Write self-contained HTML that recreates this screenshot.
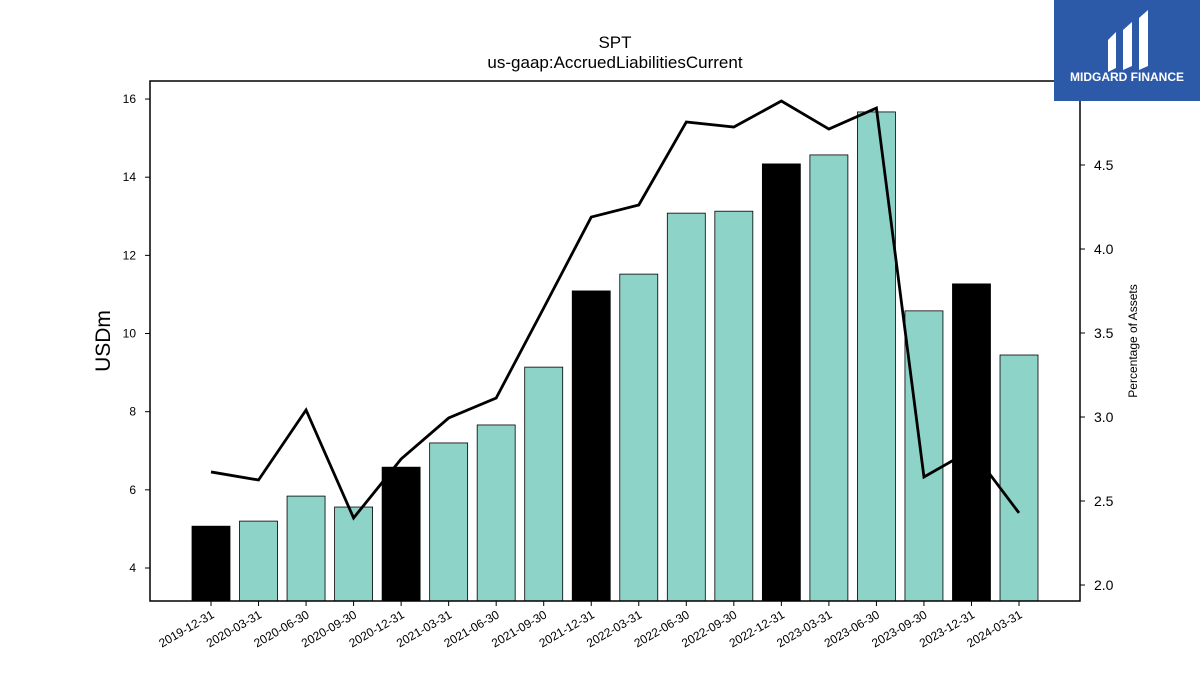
<!DOCTYPE html>
<html><head><meta charset="utf-8"><style>
body{margin:0;background:#fff;}
svg{display:block;font-family:"Liberation Sans","DejaVu Sans",sans-serif;}
</style></head><body>
<svg id="chart" width="1200" height="675" viewBox="0 0 1200 675">
<text x="615" y="48" text-anchor="middle" font-size="17">SPT</text>
<text x="615" y="68" text-anchor="middle" font-size="17">us-gaap:AccruedLiabilitiesCurrent</text>
<g id="bars"></g>
<g id="line"></g>
<rect x="150" y="81" width="930" height="520" fill="none" stroke="#000" stroke-width="1.5"/>
<g id="lticks"></g>
<g id="rticks"></g>
<g id="xticks"></g>
<text transform="translate(110,341) rotate(-90)" text-anchor="middle" font-size="21">USDm</text>
<text transform="translate(1137,341) rotate(-90)" text-anchor="middle" font-size="12">Percentage of Assets</text>
<g>
<rect x="1054" y="0" width="146" height="101" fill="#2c5aa9"/>
<path d="M1108 40 L1116 32 L1116 68 L1108 72 Z M1123 30 L1132 22 L1132 66 L1123 70 Z M1139 18 L1148 10 L1148 66 L1139 70 Z" fill="#fff"/>
<text x="1127" y="81" text-anchor="middle" font-size="12" font-weight="bold" fill="#fff">MIDGARD FINANCE</text>
</g>
</svg>
<script>
const categories=["2019-12-31","2020-03-31","2020-06-30","2020-09-30","2020-12-31","2021-03-31","2021-06-30","2021-09-30","2021-12-31","2022-03-31","2022-06-30","2022-09-30","2022-12-31","2023-03-31","2023-06-30","2023-09-30","2023-12-31","2024-03-31"];
const barValues=[5.07,5.20,5.84,5.56,6.58,7.20,7.66,9.14,11.09,11.52,13.08,13.13,14.34,14.57,15.67,10.58,11.27,9.45];
const pctValues=[2.673,2.625,3.042,2.399,2.75,2.994,3.113,3.649,4.19,4.262,4.756,4.726,4.881,4.714,4.839,2.643,2.804,2.429];
const leftTicks=[4,6,8,10,12,14,16];
const rightTicks=[2.0,2.5,3.0,3.5,4.0,4.5];
const NS="http://www.w3.org/2000/svg";
const yL=v=>568-(v-4)*39.08;
const yR=v=>585-(v-2)*168;
const xC=i=>211+i*47.53;
function mk(t,a,p){const e=document.createElementNS(NS,t);for(const k in a)e.setAttribute(k,a[k]);p.appendChild(e);return e;}
const bg=document.getElementById('bars');
barValues.forEach((v,i)=>{
 const r=mk('rect',{x:xC(i)-19,y:yL(v),width:38,height:601-yL(v),fill:categories[i].endsWith('12-31')?'#000':'#8dd3c7',stroke:'#000','stroke-width':0.8},bg);
 
 
});
const pl=mk('polyline',{points:pctValues.map((v,i)=>xC(i)+','+yR(v)).join(' '),fill:'none',stroke:'#000','stroke-width':2.8},document.getElementById('line'));


const lt=document.getElementById('lticks');
leftTicks.forEach(v=>{
 mk('line',{x1:145,x2:150,y1:yL(v),y2:yL(v),stroke:'#000'},lt);
 const t=mk('text',{x:136,y:yL(v)+4,'text-anchor':'end','font-size':12},lt);t.textContent=v;
 
 
});
const rt=document.getElementById('rticks');
rightTicks.forEach(v=>{
 mk('line',{x1:1080,x2:1085,y1:yR(v),y2:yR(v),stroke:'#000'},rt);
 const t=mk('text',{x:1094,y:yR(v)+5,'font-size':14},rt);t.textContent=v.toFixed(1);
 
 
});
const xt=document.getElementById('xticks');
categories.forEach((c,i)=>{
 mk('line',{x1:xC(i),x2:xC(i),y1:601,y2:606,stroke:'#000'},xt);
 const t=mk('text',{transform:`translate(${xC(i)+4},${617}) rotate(-30)`,'text-anchor':'end','font-size':12},xt);t.textContent=c;
 
 
});
</script>
</body></html>
